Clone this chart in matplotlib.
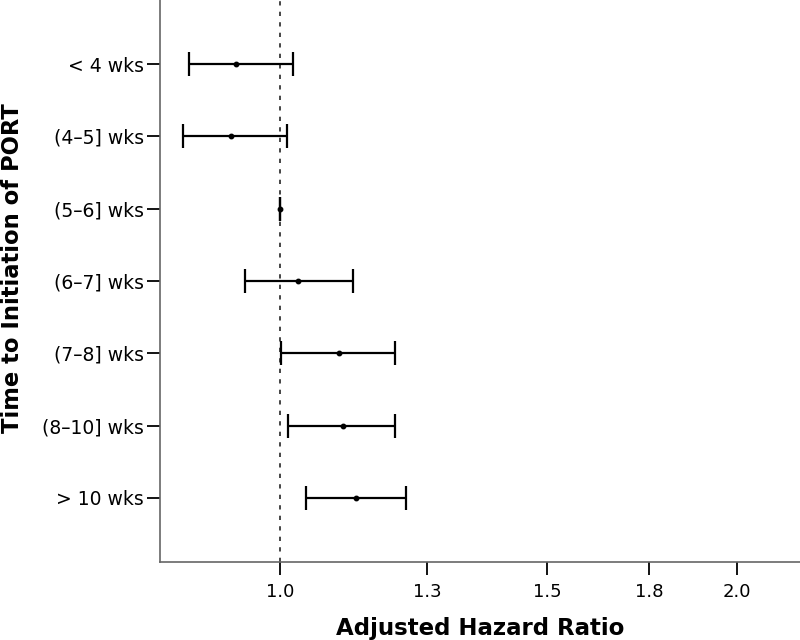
import matplotlib
matplotlib.use('Agg')
import matplotlib.pyplot as plt
from matplotlib.ticker import FixedLocator, NullLocator
import numpy as np

# Data
groups = ['< 4 wks', '(4\u20135] wks', '(5\u20136] wks', '(6\u20137] wks',
          '(7\u20138] wks', '(8\u201310] wks', '> 10 wks']
hr = [0.936, 0.929, 1.0, 1.028, 1.094, 1.100, 1.122]
ci_low = [0.871, 0.863, 1.0, 0.949, 1.002, 1.012, 1.040]
ci_high = [1.021, 1.011, 1.0, 1.117, 1.191, 1.191, 1.211]
xticks = [1.0, 1.25, 1.5, 1.75, 2.0]
xtick_labels = ['1.0', '1.3', '1.5', '1.8', '2.0']

plt.rcParams['font.family'] = ['DejaVu Sans']

fig = plt.figure(figsize=(8, 6.4), dpi=100)
ax = fig.add_axes([0.2, 0.122, 0.8, 0.878])

y = np.arange(len(groups))
hr_a = np.array(hr)
err = [hr_a - np.array(ci_low), np.array(ci_high) - hr_a]

# reference line at HR = 1
ax.axvline(1.0, color='#444444', lw=1.4, ls=(0, (2.2, 3.2)), zorder=1)
ax.errorbar(hr_a, y, xerr=err, fmt='o', color='black', ms=3.2,
            elinewidth=1.6, capsize=8.5, capthick=1.6, zorder=3)

ax.set_xscale('log')
ax.set_xlim(0.834, 2.2)
ax.set_ylim(len(groups) - 1 + 0.886, -0.886)
ax.xaxis.set_major_locator(FixedLocator(xticks))
ax.xaxis.set_minor_locator(NullLocator())
ax.set_xticklabels(xtick_labels)
ax.set_yticks(y)
ax.set_yticklabels(groups)

for s in ['top', 'right']:
    ax.spines[s].set_visible(False)
for s in ['left', 'bottom']:
    ax.spines[s].set_color('#666666')
    ax.spines[s].set_linewidth(1.2)

ax.tick_params(axis='both', length=9.5, width=1.3, color='black', pad=2)
ax.tick_params(axis='y', labelsize=13.5)
ax.tick_params(axis='x', labelsize=13, pad=6)

ax.set_xlabel('Adjusted Hazard Ratio', fontsize=16.5, fontweight='bold', labelpad=11)
ax.set_ylabel('Time to Initiation of PORT', fontsize=16.3, fontweight='bold')
ax.yaxis.set_label_coords(-0.212, 0.523)

fig.savefig('out.png', dpi=100)
plt.close(fig)
